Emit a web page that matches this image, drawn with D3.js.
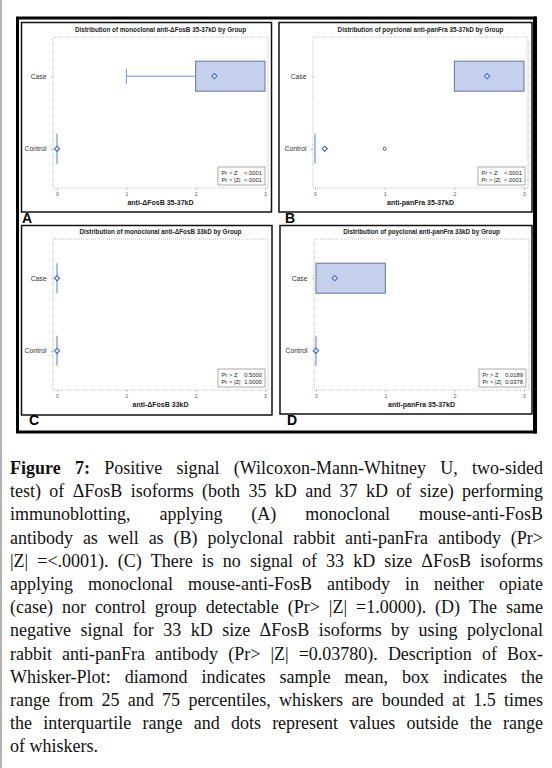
<!DOCTYPE html>
<html>
<head>
<meta charset="utf-8">
<script src="https://cdn.jsdelivr.net/npm/d3@7"></script>
<style>
  body { margin: 0; background: #fff; }
  svg { display: block; }
</style>
</head>
<body>
<script>
// ---- data ----
const groups = ["Case", "Control"];
const panelLetters = ["A", "B", "C", "D"];
const titles = [
    "Distribution of monoclonal anti-\u0394FosB 35-37kD by Group",
    "Distribution of poyclonal anti-panFra 35-37kD by Group",
    "Distribution of monoclonal anti-\u0394FosB 33kD by Group",
    "Distribution of poyclonal anti-panFra 33kD by Group"
];
const axisLabels = ["anti-\u0394FosB 35-37kD", "anti-panFra 35-37kD", "anti-\u0394FosB 33kD", "anti-panFra 35-37kD"];
const xTicks = [0, 1, 2, 3];
// per panel: [Case, Control]
const boxLow = [[2, 0], [2, 0], [0, 0], [0, 0]];
const boxHigh = [[3, 0], [3, 0], [0, 0], [1, 0]];
const whiskerLow = [[1, 0], [2, 0], [0, 0], [0, 0]];
const whiskerHigh = [[3, 0], [3, 0], [0, 0], [1, 0]];
const means = [[2.27, 0], [2.47, 0.14], [0, 0], [0.27, 0]];
const outliers = [[[], []], [[], [1]], [[], []], [[], []]];
const prZ = ["<.0001", "<.0001", "0.5000", "0.0189"];
const prAbsZ = ["<.0001", "<.0001", "1.0000", "0.0378"];

const captionLines = [
    "Figure 7: Positive signal (Wilcoxon-Mann-Whitney U, two-sided",
    "test) of \u0394FosB isoforms (both 35 kD and 37 kD of size) performing",
    "immunoblotting, applying (A) monoclonal mouse-anti-FosB",
    "antibody as well as (B) polyclonal rabbit anti-panFra antibody (Pr>",
    "|Z| =<.0001). (C) There is no signal of 33 kD size \u0394FosB isoforms",
    "applying monoclonal mouse-anti-FosB antibody in neither opiate",
    "(case) nor control group detectable (Pr> |Z| =1.0000). (D) The same",
    "negative signal for 33 kD size \u0394FosB isoforms by using polyclonal",
    "rabbit anti-panFra antibody (Pr> |Z| =0.03780). Description of Box-",
    "Whisker-Plot: diamond indicates sample mean, box indicates the",
    "range from 25 and 75 percentiles, whiskers are bounded at 1.5 times",
    "the interquartile range and dots represent values outside the range",
    "of whiskers."
];

// ---- layout ----
const W = 552, H = 768;
const panels = [
    { frame: [21.5, 22.5, 271.5, 212], plot: [53, 37, 268, 188], tick: [57, 265], letter: [22, 223], labelRight: 48 },
    { frame: [279, 22.5, 532, 212], plot: [313, 37, 528, 188], tick: [315, 524], letter: [285, 223], labelRight: 308 },
    { frame: [21.5, 225.5, 272, 415], plot: [53, 239, 268, 390], tick: [57, 265], letter: [29, 425], labelRight: 48 },
    { frame: [280, 225.5, 532, 414], plot: [314, 239, 529, 390], tick: [316, 524], letter: [287, 425], labelRight: 309 }
];
const boxH = 30;
const sans = "'Liberation Sans', Arial, sans-serif";

const svg = d3.select("body").append("svg")
    .attr("width", W).attr("height", H)
    .attr("viewBox", [0, 0, W, H]);

// page edge line
svg.append("line").attr("x1", 1).attr("x2", 1).attr("y1", 0).attr("y2", H)
    .attr("stroke", "#9a9a9a").attr("stroke-width", 1.5);

// outer frame
svg.append("rect").attr("x", 17.5).attr("y", 18).attr("width", 517).attr("height", 414)
    .attr("fill", "#fff").attr("stroke", "#000").attr("stroke-width", 3);
svg.append("line").attr("x1", 535.5).attr("x2", 535.5).attr("y1", 16.5).attr("y2", 433.5)
    .attr("stroke", "#000").attr("stroke-width", 3);

panels.forEach((p, i) => {
    const [fx0, fy0, fx1, fy1] = p.frame;
    const [px0, py0, px1, py1] = p.plot;
    const g = svg.append("g");

    g.append("rect")
        .attr("x", fx0).attr("y", fy0).attr("width", fx1 - fx0).attr("height", fy1 - fy0)
        .attr("fill", "#fff").attr("stroke", "#111").attr("stroke-width", 1.5);

    g.append("text")
        .attr("x", p.letter[0]).attr("y", p.letter[1])
        .attr("font-family", sans).attr("font-weight", "bold").attr("font-size", 14)
        .text(panelLetters[i]);

    const x = d3.scaleLinear().domain([0, 3]).range(p.tick);
    const y = d3.scalePoint().domain(groups).range([py0, py1]).padding(0.54);

    // plot area, dotted border
    g.append("rect")
        .attr("x", px0).attr("y", py0).attr("width", px1 - px0).attr("height", py1 - py0)
        .attr("fill", "none").attr("stroke", "#b8b8b8").attr("stroke-width", 0.8)
        .attr("stroke-dasharray", "1,1");

    g.append("text")
        .attr("x", (px0 + px1) / 2).attr("y", py0 - 5)
        .attr("text-anchor", "middle")
        .attr("font-family", sans).attr("font-weight", "bold").attr("font-size", 6.3)
        .attr("fill", "#222")
        .text(titles[i]);

    // x axis
    const xa = g.append("g")
        .attr("transform", `translate(0,${py1})`)
        .call(d3.axisBottom(x).tickValues(xTicks).tickSize(1.5).tickPadding(3).tickFormat(d3.format("d")));
    xa.select(".domain").remove();
    xa.selectAll("line").attr("stroke", "#aaa");
    xa.selectAll("text").attr("font-family", sans).attr("font-size", 5).attr("fill", "#555");

    g.append("text")
        .attr("x", (px0 + px1) / 2).attr("y", py1 + 17)
        .attr("text-anchor", "middle")
        .attr("font-family", sans).attr("font-weight", "bold").attr("font-size", 7)
        .attr("fill", "#222")
        .text(axisLabels[i]);

    // y axis
    const ya = g.append("g")
        .attr("transform", `translate(${px0},0)`)
        .call(d3.axisLeft(y).tickSize(1.5).tickPadding(px0 - p.labelRight));
    ya.select(".domain").remove();
    ya.selectAll("line").attr("stroke", "#aaa");
    ya.selectAll("text").attr("font-family", sans).attr("font-size", 6.8).attr("fill", "#333");

    groups.forEach((grp, j) => {
        const cy = y(grp);
        const lo = boxLow[i][j], hi = boxHigh[i][j];
        const wl = whiskerLow[i][j], wh = whiskerHigh[i][j];

        // whiskers
        if (wl < lo) {
            g.append("line").attr("x1", x(wl)).attr("x2", x(lo)).attr("y1", cy).attr("y2", cy)
                .attr("stroke", "#7491d2").attr("stroke-width", 1);
            g.append("line").attr("x1", x(wl)).attr("x2", x(wl)).attr("y1", cy - boxH / 4).attr("y2", cy + boxH / 4)
                .attr("stroke", "#7491d2").attr("stroke-width", 1);
        }
        if (wh > hi) {
            g.append("line").attr("x1", x(hi)).attr("x2", x(wh)).attr("y1", cy).attr("y2", cy)
                .attr("stroke", "#7491d2").attr("stroke-width", 1);
            g.append("line").attr("x1", x(wh)).attr("x2", x(wh)).attr("y1", cy - boxH / 4).attr("y2", cy + boxH / 4)
                .attr("stroke", "#7491d2").attr("stroke-width", 1);
        }

        if (hi > lo) {
            g.append("rect")
                .attr("x", x(lo)).attr("y", cy - boxH / 2)
                .attr("width", x(hi) - x(lo)).attr("height", boxH)
                .attr("fill", "#c5d0ec").attr("stroke", "#66739f").attr("stroke-width", 1);
        } else {
            g.append("line")
                .attr("x1", x(lo)).attr("x2", x(lo))
                .attr("y1", cy - boxH / 2).attr("y2", cy + boxH / 2)
                .attr("stroke", "#809bd8").attr("stroke-width", 1.3);
        }

        // outliers
        g.selectAll(null).data(outliers[i][j]).join("circle")
            .attr("cx", d => x(d)).attr("cy", cy).attr("r", 1.6)
            .attr("fill", "none").attr("stroke", "#555").attr("stroke-width", 0.9);

        // mean diamond
        const mx = x(means[i][j]), s = 2.6;
        g.append("path")
            .attr("d", `M${mx},${cy - s}L${mx + s},${cy}L${mx},${cy + s}L${mx - s},${cy}Z`)
            .attr("fill", "#fff").attr("fill-opacity", 0.6)
            .attr("stroke", "#3f6cc6").attr("stroke-width", 1.1);
    });

    // test legend
    const lw = 47, lh = 18;
    const lx = px1 - 3 - lw, ly = py1 - 3 - lh;
    g.append("rect").attr("x", lx).attr("y", ly).attr("width", lw).attr("height", lh)
        .attr("fill", "#fff").attr("stroke", "#888").attr("stroke-width", 0.7);
    const leg = g.append("g").attr("font-family", sans).attr("font-size", 5.8).attr("fill", "#222");
    leg.append("text").attr("x", lx + 3.5).attr("y", ly + 7.5).text("Pr > Z");
    leg.append("text").attr("x", lx + 3.5).attr("y", ly + 15).text("Pr > |Z|");
    leg.append("text").attr("x", lx + lw - 3).attr("y", ly + 7.5).attr("text-anchor", "end").text(prZ[i]);
    leg.append("text").attr("x", lx + lw - 3).attr("y", ly + 15).attr("text-anchor", "end").text(prAbsZ[i]);
});

// ---- caption, justified line by line ----
const capLeft = 10, capRight = 543, capTop = 474, capStep = 23.2;
const cap = svg.append("g")
    .attr("font-family", "'Liberation Serif', 'Times New Roman', serif")
    .attr("font-size", 18).attr("fill", "#111");

captionLines.forEach((line, li) => {
    const words = line.split(" ");
    const yy = capTop + li * capStep;
    const nodes = words.map((w, wi) => cap.append("text")
        .attr("y", yy)
        .attr("font-weight", li === 0 && wi < 2 ? "bold" : "normal")
        .text(w));
    const widths = nodes.map(n => n.node().getComputedTextLength());
    const total = d3.sum(widths);
    const last = li === captionLines.length - 1;
    const gap = last ? 4.5 : (capRight - capLeft - total) / (words.length - 1);
    let cx = capLeft;
    nodes.forEach((n, k) => {
        n.attr("x", cx);
        cx += widths[k] + gap;
    });
});
</script>
</body>
</html>
